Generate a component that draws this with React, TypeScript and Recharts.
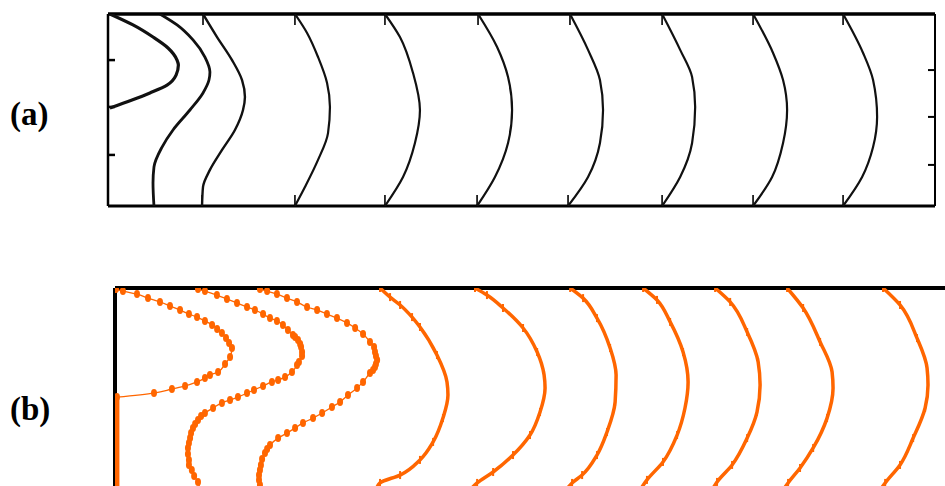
import { Scatter, ScatterChart, XAxis, YAxis } from "recharts";

type Pt = [number, number];

// x = streamwise position (channel heights), y = height (0 bottom, 1 top)

// (a) measured isolines
const A1: Pt[] = [[0.01, 1.0], [0.13, 0.943], [0.234, 0.88], [0.312, 0.823], [0.359, 0.76], [0.366, 0.734], [0.354, 0.682], [0.307, 0.63], [0.218, 0.589], [0.125, 0.552], [0.01, 0.51]];
const A2: Pt[] = [[0.27, 1.0], [0.359, 0.943], [0.442, 0.865], [0.504, 0.776], [0.53, 0.698], [0.525, 0.656], [0.494, 0.589], [0.426, 0.5], [0.338, 0.396], [0.281, 0.307], [0.239, 0.203], [0.234, 0.12], [0.239, 0.0]];
const A3: Pt[] = [[0.494, 1.0], [0.567, 0.88], [0.645, 0.76], [0.697, 0.656], [0.712, 0.568], [0.702, 0.5], [0.66, 0.396], [0.593, 0.292], [0.53, 0.188], [0.494, 0.099], [0.489, 0.0]];
const A4: Pt[] = [[0.972, 1.0], [1.035, 0.901], [1.092, 0.776], [1.139, 0.641], [1.154, 0.516], [1.144, 0.38], [1.092, 0.24], [1.024, 0.099], [0.972, 0.0]];
const A5: Pt[] = [[1.44, 1.0], [1.518, 0.88], [1.586, 0.693], [1.622, 0.5], [1.596, 0.328], [1.534, 0.151], [1.44, 0.0]];
const A6: Pt[] = [[1.924, 1.0], [2.023, 0.828], [2.08, 0.672], [2.101, 0.5], [2.08, 0.328], [2.012, 0.151], [1.919, 0.0]];
const A7: Pt[] = [[2.402, 1.0], [2.496, 0.813], [2.558, 0.656], [2.574, 0.5], [2.558, 0.328], [2.496, 0.151], [2.392, 0.0]];
const A8: Pt[] = [[2.881, 1.0], [2.975, 0.813], [3.037, 0.672], [3.053, 0.516], [3.037, 0.328], [2.975, 0.151], [2.881, 0.0]];
const A9: Pt[] = [[3.354, 1.0], [3.458, 0.797], [3.51, 0.656], [3.531, 0.5], [3.51, 0.328], [3.453, 0.151], [3.354, 0.0]];
const A10: Pt[] = [[3.822, 1.0], [3.926, 0.797], [3.978, 0.656], [3.999, 0.464], [3.978, 0.307], [3.921, 0.151], [3.822, 0.0]];
const A_CURVES = [A1, A2, A3, A4, A5, A6, A7, A8, A9, A10];
const A_WIDTHS = [3.2, 2.8, 2.4, 2.2, 2.2, 2.2, 2.2, 2.2, 2.2, 2.2];

const A_TOP_TICKS = [0.494, 0.972, 1.44, 1.924, 2.402, 2.881, 3.354, 3.822];
const A_BOTTOM_TICKS = [0.489, 0.972, 1.44, 1.919, 2.392, 2.881, 3.354, 3.822];
const A_LEFT_TICKS = [0.266, 0.516, 0.76];
const A_RIGHT_TICKS = [0.214, 0.464, 0.708];

// (b) computed isolines
const B1: Pt[] = [[0.005, 0.995], [0.041, 0.985], [0.114, 0.97], [0.171, 0.95], [0.233, 0.931], [0.285, 0.911], [0.337, 0.891], [0.383, 0.871], [0.425, 0.856], [0.466, 0.837], [0.503, 0.817], [0.529, 0.797], [0.554, 0.777], [0.575, 0.752], [0.591, 0.728], [0.606, 0.703], [0.596, 0.658], [0.57, 0.624], [0.534, 0.584], [0.492, 0.569], [0.466, 0.554], [0.425, 0.535], [0.363, 0.515], [0.295, 0.5], [0.202, 0.48], [0.01, 0.46]];
const B2: Pt[] = [[0.43, 0.995], [0.466, 0.985], [0.528, 0.965], [0.58, 0.946], [0.632, 0.926], [0.684, 0.906], [0.725, 0.891], [0.767, 0.871], [0.803, 0.851], [0.839, 0.837], [0.87, 0.817], [0.896, 0.792], [0.922, 0.767], [0.933, 0.757], [0.948, 0.743], [0.959, 0.723], [0.964, 0.708], [0.969, 0.683], [0.969, 0.663], [0.953, 0.634], [0.943, 0.619], [0.917, 0.584], [0.881, 0.559], [0.845, 0.545], [0.813, 0.535], [0.767, 0.515], [0.72, 0.495], [0.684, 0.48], [0.637, 0.46], [0.596, 0.446], [0.554, 0.431], [0.508, 0.406], [0.466, 0.381], [0.446, 0.366], [0.43, 0.347], [0.415, 0.327], [0.404, 0.307], [0.394, 0.282], [0.389, 0.257], [0.383, 0.233], [0.378, 0.208], [0.378, 0.178], [0.383, 0.149], [0.383, 0.124], [0.398, 0.099], [0.41, 0.069], [0.43, 0.04], [0.44, 0.0]];
const B3: Pt[] = [[0.751, 0.995], [0.788, 0.985], [0.839, 0.97], [0.891, 0.95], [0.943, 0.931], [0.995, 0.906], [1.047, 0.891], [1.098, 0.871], [1.15, 0.851], [1.202, 0.827], [1.244, 0.802], [1.285, 0.772], [1.321, 0.733], [1.342, 0.708], [1.347, 0.683], [1.352, 0.663], [1.358, 0.644], [1.352, 0.624], [1.347, 0.609], [1.337, 0.594], [1.321, 0.579], [1.285, 0.535], [1.254, 0.505], [1.207, 0.47], [1.166, 0.436], [1.124, 0.411], [1.073, 0.381], [1.026, 0.356], [0.974, 0.332], [0.933, 0.307], [0.891, 0.282], [0.845, 0.257], [0.803, 0.223], [0.788, 0.203], [0.777, 0.183], [0.762, 0.153], [0.756, 0.124], [0.751, 0.099], [0.746, 0.074], [0.746, 0.05], [0.751, 0.025], [0.751, 0.0]];
const B_WALL: Pt[] = [[0.01, 0.46], [0.01, 0.0]];
const B4: Pt[] = [[1.373, 1.0], [1.425, 0.955], [1.477, 0.916], [1.539, 0.856], [1.58, 0.807], [1.668, 0.668], [1.72, 0.535], [1.725, 0.47], [1.699, 0.356], [1.648, 0.238], [1.58, 0.149], [1.477, 0.074], [1.373, 0.035], [1.352, 0.0]];
const B5: Pt[] = [[1.865, 1.0], [1.927, 0.965], [2.01, 0.901], [2.114, 0.802], [2.187, 0.683], [2.223, 0.569], [2.228, 0.505], [2.202, 0.386], [2.15, 0.272], [2.062, 0.173], [1.959, 0.089], [1.876, 0.035], [1.839, 0.0]];
const B6: Pt[] = [[2.358, 1.0], [2.425, 0.95], [2.497, 0.851], [2.565, 0.703], [2.596, 0.569], [2.591, 0.436], [2.549, 0.287], [2.497, 0.173], [2.42, 0.074], [2.368, 0.035], [2.337, 0.0]];
const B7: Pt[] = [[2.736, 1.0], [2.808, 0.941], [2.876, 0.832], [2.943, 0.683], [2.969, 0.535], [2.953, 0.406], [2.912, 0.272], [2.839, 0.139], [2.756, 0.05], [2.72, 0.0]];
const B8: Pt[] = [[3.109, 1.0], [3.187, 0.931], [3.275, 0.782], [3.332, 0.634], [3.342, 0.52], [3.326, 0.386], [3.275, 0.257], [3.197, 0.124], [3.119, 0.04], [3.093, 0.0]];
const B9: Pt[] = [[3.482, 1.0], [3.565, 0.901], [3.653, 0.733], [3.715, 0.584], [3.72, 0.505], [3.689, 0.356], [3.617, 0.208], [3.549, 0.109], [3.487, 0.035], [3.461, 0.0]];
const B10: Pt[] = [[3.979, 1.0], [4.067, 0.916], [4.155, 0.752], [4.207, 0.604], [4.212, 0.52], [4.197, 0.406], [4.135, 0.257], [4.067, 0.124], [3.99, 0.035], [3.964, 0.0]];
const B_DOTTED = [B1, B2, B3];
const B_SOLID = [B4, B5, B6, B7, B8, B9, B10];

const ORANGE = "#ff6600";
const DOMAIN_X: [number, number] = [0, 4.3];
const DOMAIN_Y: [number, number] = [0, 1];

const toData = (c: Pt[]) => c.map(([x, y]) => ({ x, y }));
const noDot = () => <g />;
const noLabel = () => <g />;
const ovalDot = (p: any) => <ellipse cx={p.cx} cy={p.cy} rx={3} ry={4} fill={ORANGE} />;
const hatchDot = (p: any) => <rect x={p.cx - 1} y={p.cy - 4} width={2} height={8} fill={ORANGE} />;

const label: React.CSSProperties = {
  position: "absolute",
  fontFamily: "'Liberation Serif', 'Times New Roman', serif",
  fontWeight: "bold",
  fontSize: 33,
  lineHeight: "33px",
};

function PanelA() {
  return (
    <ScatterChart width={847} height={212} margin={{ top: 10, right: 10, bottom: 10, left: 10 }}>
      <XAxis xAxisId="b" type="number" dataKey="x" orientation="bottom" mirror domain={DOMAIN_X} allowDataOverflow
        ticks={A_BOTTOM_TICKS} interval={0} tick={noLabel} tickSize={11}
        tickLine={{ stroke: "#000", strokeWidth: 1.6 }} axisLine={{ stroke: "#000", strokeWidth: 3 }} />
      <XAxis xAxisId="t" type="number" dataKey="x" orientation="top" mirror domain={DOMAIN_X} allowDataOverflow
        ticks={A_TOP_TICKS} interval={0} tick={noLabel} tickSize={11}
        tickLine={{ stroke: "#000", strokeWidth: 1.6 }} axisLine={{ stroke: "#000", strokeWidth: 3.5 }} />
      <YAxis yAxisId="l" type="number" dataKey="y" orientation="left" mirror domain={DOMAIN_Y} allowDataOverflow
        ticks={A_LEFT_TICKS} interval={0} tick={noLabel} tickSize={7}
        tickLine={{ stroke: "#000", strokeWidth: 2.5 }} axisLine={{ stroke: "#000", strokeWidth: 2.5 }} />
      <YAxis yAxisId="r" type="number" dataKey="y" orientation="right" mirror domain={DOMAIN_Y} allowDataOverflow
        ticks={A_RIGHT_TICKS} interval={0} tick={noLabel} tickSize={7}
        tickLine={{ stroke: "#000", strokeWidth: 2 }} axisLine={{ stroke: "#000", strokeWidth: 2 }} />
      {A_CURVES.map((c, i) => (
        <Scatter key={i} xAxisId="b" yAxisId="l" data={toData(c)} fill="#111"
          line={{ stroke: "#111", strokeWidth: A_WIDTHS[i] }} lineJointType="monotoneY"
          shape={noDot} isAnimationActive={false} />
      ))}
    </ScatterChart>
  );
}

function PanelB() {
  return (
    <ScatterChart width={850} height={222} margin={{ top: 10, right: 10, bottom: 10, left: 10 }}>
      <XAxis xAxisId="t" type="number" dataKey="x" orientation="top" mirror domain={DOMAIN_X} allowDataOverflow
        tick={false} tickLine={false} axisLine={{ stroke: "#000", strokeWidth: 4 }} />
      <YAxis yAxisId="l" type="number" dataKey="y" orientation="left" mirror domain={DOMAIN_Y} allowDataOverflow
        tick={false} tickLine={false} axisLine={{ stroke: "#000", strokeWidth: 4 }} />
      <Scatter xAxisId="t" yAxisId="l" data={toData(B_WALL)} fill={ORANGE}
        line={{ stroke: ORANGE, strokeWidth: 5 }} shape={noDot} isAnimationActive={false} />
      {B_DOTTED.map((c, i) => (
        <Scatter key={"d" + i} xAxisId="t" yAxisId="l" data={toData(c)} fill={ORANGE}
          line={{ stroke: ORANGE, strokeWidth: 1.3 }} lineJointType="monotoneY"
          shape={ovalDot} isAnimationActive={false} />
      ))}
      {B_SOLID.map((c, i) => (
        <Scatter key={"s" + i} xAxisId="t" yAxisId="l" data={toData(c)} fill={ORANGE}
          line={{ stroke: ORANGE, strokeWidth: 3.5 }} lineJointType="monotoneY"
          shape={hatchDot} isAnimationActive={false} />
      ))}
    </ScatterChart>
  );
}

export default function App() {
  return (
    <div style={{ position: "absolute", left: 0, top: 0, width: 945, height: 486, overflow: "hidden", background: "#fff" }}>
      <div style={{ ...label, left: 10, top: 98 }}>(a)</div>
      <div style={{ ...label, left: 10, top: 393 }}>(b)</div>
      <div style={{ position: "absolute", left: 98, top: 4 }}>
        <PanelA />
      </div>
      <div style={{ position: "absolute", left: 105, top: 278 }}>
        <PanelB />
      </div>
    </div>
  );
}
